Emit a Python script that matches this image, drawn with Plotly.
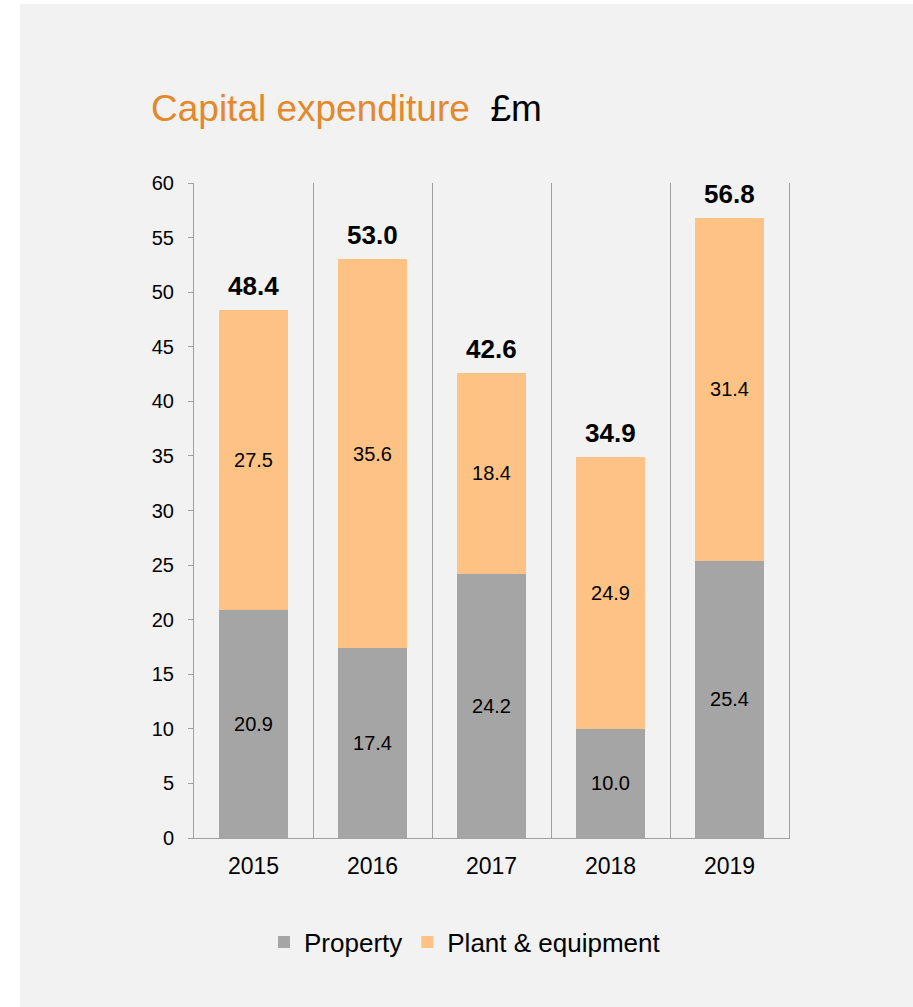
import plotly.graph_objects as go

years = ["2015", "2016", "2017", "2018", "2019"]
property_vals = [20.9, 17.4, 24.2, 10.0, 25.4]
plant_vals = [27.5, 35.6, 18.4, 24.9, 31.4]
y_ticks = [0, 5, 10, 15, 20, 25, 30, 35, 40, 45, 50, 55, 60]

FONT = "Arial, 'Liberation Sans', sans-serif"
GRAY = "#a5a5a5"
ORANGE = "#ffc285"
AXIS = "#a0a0a0"
BG = "#f2f2f2"

W, H = 913, 1007
L, R, T, B = 194, 124, 183, 169
pw, ph = W - L - R, H - T - B

def px_x(p):
    return (p - L) / pw

def px_y(p):
    return (H - B - p) / ph

fig = go.Figure()
fig.add_trace(go.Bar(
    x=years, y=property_vals, name="Property",
    marker=dict(color=GRAY, line=dict(width=0)),
    text=[f"{v:.1f}" for v in property_vals],
    textposition="inside", insidetextanchor="middle",
    textfont=dict(size=20, color="black", family=FONT),
    hoverinfo="skip",
))
fig.add_trace(go.Bar(
    x=years, y=plant_vals, name="Plant & equipment",
    marker=dict(color=ORANGE, line=dict(width=0)),
    text=[f"{v:.1f}" for v in plant_vals],
    textposition="inside", insidetextanchor="middle",
    textfont=dict(size=20, color="black", family=FONT),
    hoverinfo="skip",
))

totals = [a + b for a, b in zip(property_vals, plant_vals)]
for i, t in enumerate(totals):
    fig.add_annotation(
        x=i, y=t, text=f"<b>{t:.1f}</b>", showarrow=False,
        xref="x", yref="y", yanchor="bottom", yshift=7,
        font=dict(size=26, color="black", family=FONT),
    )

# white strips outside the gray panel
fig.add_shape(type="rect", xref="paper", yref="paper",
              x0=px_x(0), x1=px_x(20), y0=px_y(H), y1=px_y(0),
              fillcolor="white", line=dict(width=0), layer="above")
fig.add_shape(type="rect", xref="paper", yref="paper",
              x0=px_x(0), x1=px_x(W), y0=px_y(4), y1=px_y(0),
              fillcolor="white", line=dict(width=0), layer="above")

fig.update_layout(
    width=W, height=H,
    margin=dict(l=L, r=R, t=T, b=B, pad=0),
    paper_bgcolor=BG, plot_bgcolor=BG,
    barmode="stack", bargap=0.42,
    font=dict(family=FONT, color="black"),
    title=dict(
        text="<span style='color:#e3892b'>Capital expenditure</span>\u00a0\u00a0£m",
        x=151 / W, xanchor="left", xref="container",
        y=1 - 108 / H, yanchor="middle", yref="container",
        font=dict(size=37, color="black", family=FONT),
    ),
    xaxis=dict(
        type="category", categoryarray=years, categoryorder="array",
        tickson="boundaries", showgrid=True,
        gridcolor=AXIS, gridwidth=1, ticks="", showline=True,
        linecolor=AXIS, linewidth=1,
        tickfont=dict(size=23, color="black"), ticklabelstandoff=7,
        zeroline=False, range=[-0.5, 4.5], tickangle=0,
    ),
    yaxis=dict(
        range=[0, 60], tickvals=y_ticks, showgrid=False, zeroline=False,
        showline=True, mirror=True, linecolor=AXIS, linewidth=1,
        ticks="outside", ticklen=5, tickcolor=AXIS,
        tickfont=dict(size=20, color="black"), ticklabelstandoff=10,
    ),
    showlegend=True,
    legend=dict(
        orientation="h", x=px_x(465), xanchor="center",
        y=px_y(942), yanchor="middle",
        font=dict(size=26, color="black"), bgcolor="rgba(0,0,0,0)",
        traceorder="normal",
    ),
)

fig.write_html("out.html", config={"displayModeBar": False},
               post_script="document.body.style.margin='0';")
